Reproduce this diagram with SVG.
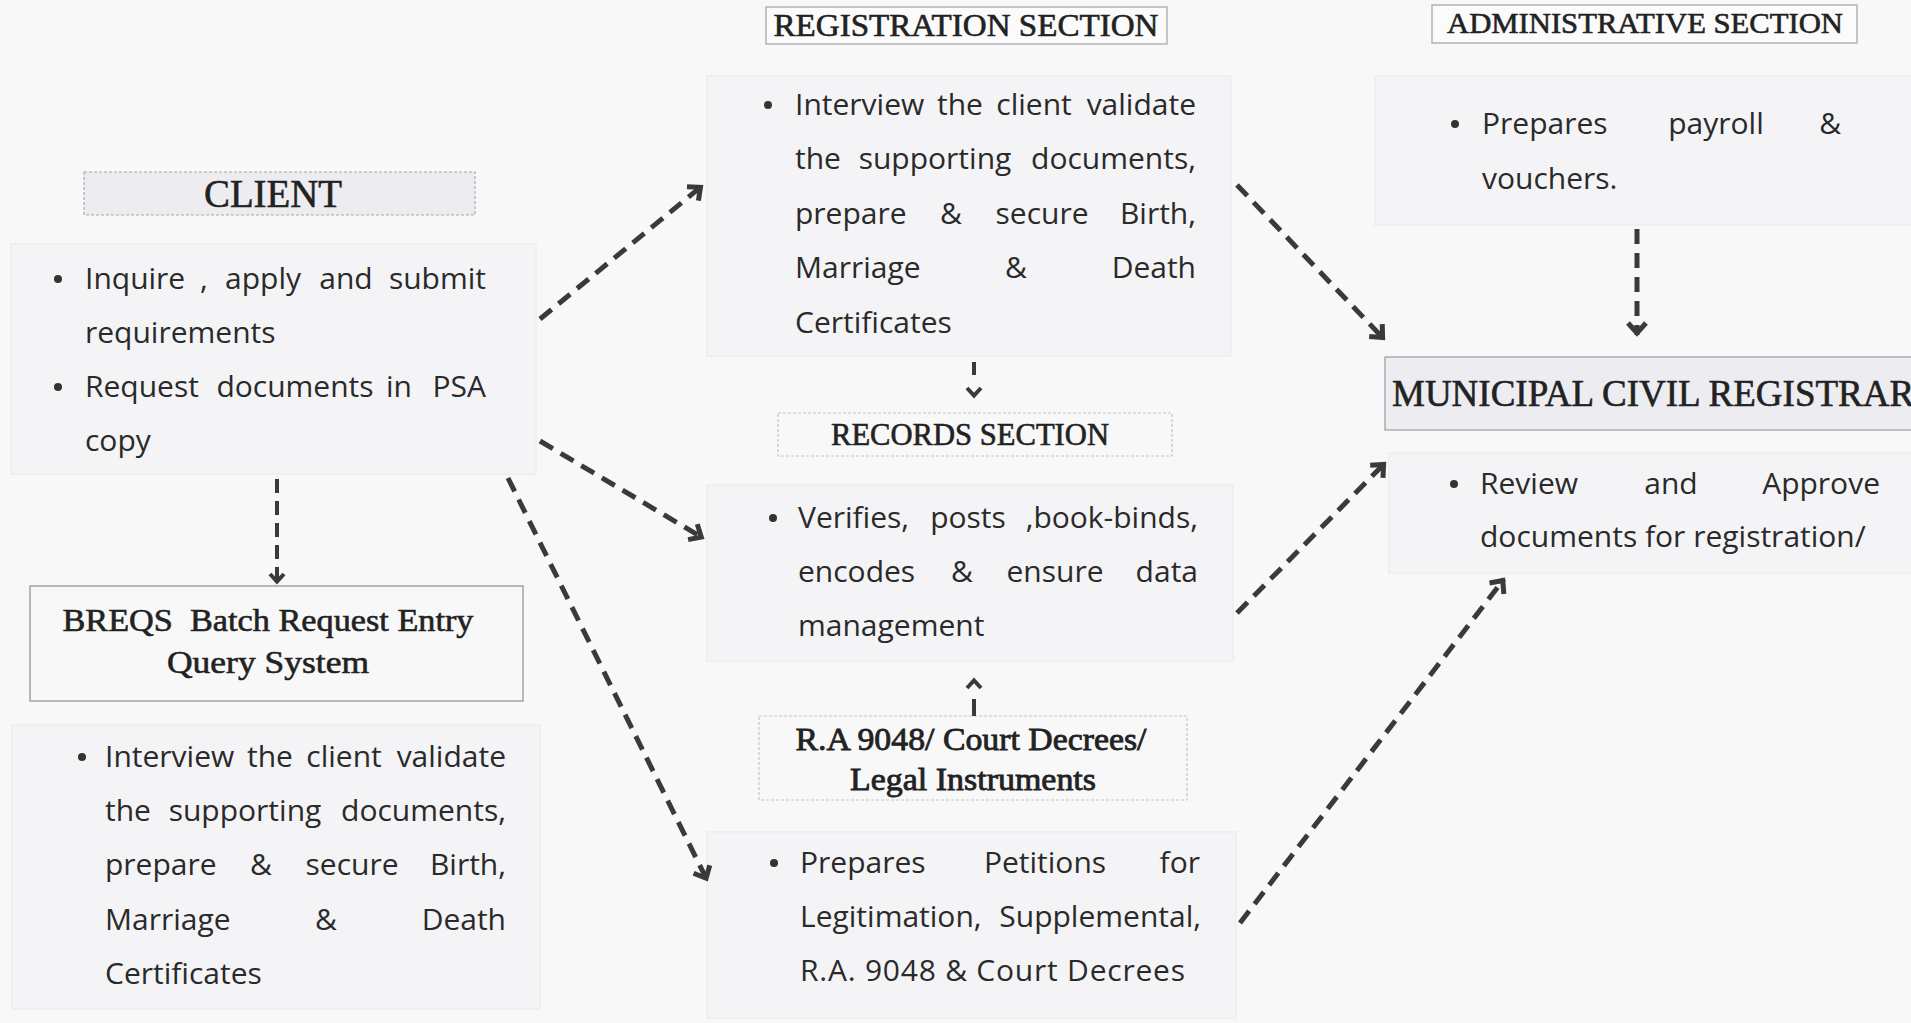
<svg xmlns="http://www.w3.org/2000/svg" width="1911" height="1023" viewBox="0 0 1911 1023">
<style>
.bg{fill:#f8f8f9}
.panel{fill:#f4f4f7;stroke:#efeff2;stroke-width:2}
.hdr{fill:#ececf1;stroke:#a9a9ae;stroke-width:1.2;stroke-dasharray:3 2}
.box{fill:#f8f8f9;stroke:#a3a3a8;stroke-width:1.5}
.boxl{fill:#f8f8f9;stroke:#c4c4c8;stroke-width:1.2;stroke-dasharray:3 2}
.sec{fill:#fbfbfb;stroke:#a8a8ad;stroke-width:1.3}
.t{font-family:"Open Sans","Liberation Sans",sans-serif;font-size:30px;fill:#2a2a2a}
.h{font-family:"Liberation Serif","DejaVu Serif",serif;fill:#222;stroke:#222;stroke-width:0.6;text-anchor:middle}
.e{text-anchor:end}
.m{text-anchor:middle}
.b{fill:#333}
.conn{fill:none;stroke:#3a3a3a;stroke-width:5;stroke-dasharray:15 9}
.conn2{fill:none;stroke:#3a3a3a;stroke-width:4}
</style>
<defs>
<marker id="ah" viewBox="-18 -14 24 28" refX="0" refY="0" markerWidth="24" markerHeight="28" markerUnits="userSpaceOnUse" orient="auto" overflow="visible">
<path d="M-12,-9 L-2,0 L-12,9" fill="none" stroke="#3a3a3a" stroke-width="5" stroke-linejoin="miter"/>
</marker>
<marker id="ah2" viewBox="-14 -10 18 20" refX="0" refY="0" markerWidth="18" markerHeight="20" markerUnits="userSpaceOnUse" orient="auto" overflow="visible">
<path d="M-9,-7 L-1.5,0 L-9,7" fill="none" stroke="#3a3a3a" stroke-width="4" stroke-linejoin="miter"/>
</marker>
</defs>
<rect class="bg" x="0" y="0" width="1911" height="1023"/>

<g id="client">
<rect class="hdr" x="84" y="172" width="391" height="43"/>
<text class="h" x="273" y="207" font-size="40" textLength="138" lengthAdjust="spacingAndGlyphs">CLIENT</text>
<rect class="panel" x="11" y="244" width="525" height="230"/>
<circle class="b" cx="58" cy="279" r="4"/>
<text class="t" x="85" y="289">Inquire</text>
<text class="t" x="200" y="289">,</text>
<text class="t m" x="263" y="289">apply</text>
<text class="t m" x="346" y="289">and</text>
<text class="t e" x="486" y="289">submit</text>
<text class="t" x="85" y="343">requirements</text>
<circle class="b" cx="58" cy="387" r="4"/>
<text class="t" x="85" y="397">Request</text>
<text class="t m" x="295" y="397">documents</text>
<text class="t m" x="399" y="397">in</text>
<text class="t e" x="486" y="397">PSA</text>
<text class="t" x="85" y="451">copy</text>
</g>

<g id="breqs">
<rect class="box" x="30" y="586" width="493" height="115"/>
<text class="h" x="268" y="631" font-size="32" textLength="411" lengthAdjust="spacingAndGlyphs" xml:space="preserve">BREQS  Batch Request Entry</text>
<text class="h" x="268" y="673" font-size="32" textLength="202" lengthAdjust="spacingAndGlyphs">Query System</text>
<rect class="panel" x="12" y="725" width="528" height="284"/>
<circle class="b" cx="82" cy="757" r="4"/>
<text class="t" x="105" y="767">Interview</text>
<text class="t m" x="270" y="767">the</text>
<text class="t m" x="344" y="767">client</text>
<text class="t e" x="506" y="767">validate</text>
<text class="t" x="105" y="821">the</text>
<text class="t m" x="245" y="821">supporting</text>
<text class="t e" x="506" y="821">documents,</text>
<text class="t" x="105" y="875">prepare</text>
<text class="t m" x="261" y="875">&amp;</text>
<text class="t m" x="352" y="875">secure</text>
<text class="t e" x="506" y="875">Birth,</text>
<text class="t" x="105" y="930">Marriage</text>
<text class="t m" x="326" y="930">&amp;</text>
<text class="t e" x="506" y="930">Death</text>
<text class="t" x="105" y="984">Certificates</text>
</g>

<g id="registration">
<rect class="sec" x="766" y="7" width="401" height="37"/>
<text class="h" x="966" y="36" font-size="31" textLength="385" lengthAdjust="spacingAndGlyphs">REGISTRATION SECTION</text>
<rect class="panel" x="707" y="76" width="524" height="280"/>
<circle class="b" cx="768" cy="105" r="4"/>
<text class="t" x="795" y="115">Interview</text>
<text class="t m" x="960" y="115">the</text>
<text class="t m" x="1034" y="115">client</text>
<text class="t e" x="1196" y="115">validate</text>
<text class="t" x="795" y="169">the</text>
<text class="t m" x="935" y="169">supporting</text>
<text class="t e" x="1196" y="169">documents,</text>
<text class="t" x="795" y="224">prepare</text>
<text class="t m" x="951" y="224">&amp;</text>
<text class="t m" x="1042" y="224">secure</text>
<text class="t e" x="1196" y="224">Birth,</text>
<text class="t" x="795" y="278">Marriage</text>
<text class="t m" x="1016" y="278">&amp;</text>
<text class="t e" x="1196" y="278">Death</text>
<text class="t" x="795" y="333">Certificates</text>
</g>

<g id="records">
<rect class="boxl" x="778" y="413" width="394" height="43"/>
<text class="h" x="970" y="445" font-size="31" textLength="278" lengthAdjust="spacingAndGlyphs">RECORDS SECTION</text>
<rect class="panel" x="707" y="485" width="526" height="176"/>
<circle class="b" cx="773" cy="518" r="4"/>
<text class="t" x="798" y="528">Verifies,</text>
<text class="t m" x="968" y="528">posts</text>
<text class="t e" x="1198" y="528">,book-binds,</text>
<text class="t" x="798" y="582">encodes</text>
<text class="t m" x="962" y="582">&amp;</text>
<text class="t m" x="1055" y="582">ensure</text>
<text class="t e" x="1198" y="582">data</text>
<text class="t" x="798" y="636">management</text>
</g>

<g id="legal">
<rect class="boxl" x="759" y="716" width="428" height="84"/>
<text class="h" x="971" y="750" font-size="31" textLength="351" lengthAdjust="spacingAndGlyphs" style="stroke-width:0.8">R.A 9048/ Court Decrees/</text>
<text class="h" x="973" y="790" font-size="31" textLength="246" lengthAdjust="spacingAndGlyphs" style="stroke-width:0.8">Legal Instruments</text>
</g>

<g id="petitions">
<rect class="panel" x="707" y="832" width="529" height="186"/>
<circle class="b" cx="774" cy="863" r="4"/>
<text class="t" x="800" y="873">Prepares</text>
<text class="t m" x="1045" y="873">Petitions</text>
<text class="t e" x="1200" y="873">for</text>
<text class="t" x="800" y="927">Legitimation,</text>
<text class="t e" x="1201" y="927">Supplemental,</text>
<text class="t" x="800" y="981" textLength="385">R.A. 9048 &amp; Court Decrees</text>
</g>

<g id="administrative">
<rect class="sec" x="1432" y="5" width="425" height="38"/>
<text class="h" x="1645" y="33" font-size="30" textLength="396" lengthAdjust="spacingAndGlyphs">ADMINISTRATIVE SECTION</text>
<rect class="panel" x="1375" y="76" width="540" height="149"/>
<circle class="b" cx="1455" cy="124" r="4"/>
<text class="t" x="1482" y="134">Prepares</text>
<text class="t m" x="1716" y="134">payroll</text>
<text class="t e" x="1841" y="134">&amp;</text>
<text class="t" x="1482" y="189">vouchers.</text>
</g>

<g id="registrar">
<rect class="hdr" x="1385" y="357" width="540" height="73" style="stroke:#9a9aa0;stroke-dasharray:none"/>
<text class="h" x="1392" y="406" font-size="37" style="text-anchor:start">MUNICIPAL CIVIL REGISTRAR</text>
<rect class="panel" x="1389" y="453" width="526" height="120"/>
<circle class="b" cx="1454" cy="484" r="4"/>
<text class="t" x="1480" y="494">Review</text>
<text class="t m" x="1671" y="494">and</text>
<text class="t e" x="1880" y="494">Approve</text>
<text class="t" x="1480" y="547">documents for registration/</text>
</g>

<g id="connectors">
<path class="conn" d="M540,319 L702,186" marker-end="url(#ah)"/>
<path class="conn" d="M540,441 L703,538" marker-end="url(#ah)"/>
<path class="conn" d="M508,478 L707,880" marker-end="url(#ah)"/>
<path class="conn" d="M277,479 L277,583" style="stroke-width:4;stroke-dasharray:14 8" marker-end="url(#ah2)"/>
<path class="conn2" d="M974,362 L974,397" style="stroke-dasharray:13 30" marker-end="url(#ah2)"/>
<path class="conn2" d="M974,716 L974,679" style="stroke-dasharray:17 30" marker-end="url(#ah2)"/>
<path class="conn" d="M1637,229 L1637,335" marker-end="url(#ah)"/>
<path class="conn" d="M1237,185 L1384,339" marker-end="url(#ah)"/>
<path class="conn" d="M1237,613 L1385,463" marker-end="url(#ah)"/>
<path class="conn" d="M1240,923 L1504,579" marker-end="url(#ah)"/>
</g>
</svg>
